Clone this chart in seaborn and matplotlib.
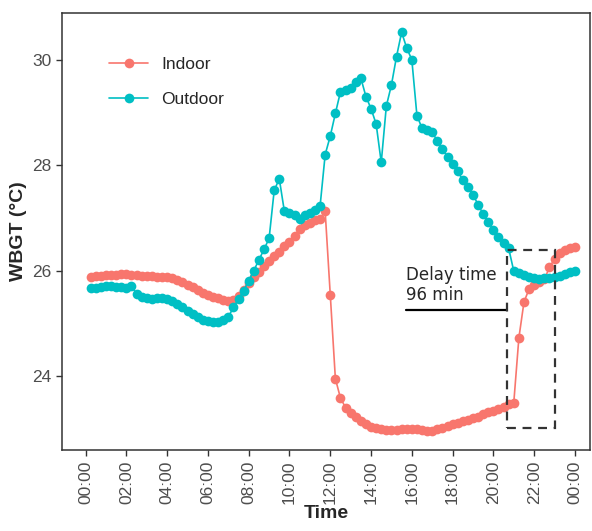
import numpy as np
import pandas as pd
import seaborn as sns
import matplotlib.pyplot as plt
from matplotlib.patches import Rectangle

# WBGT every 15 min, 00:15 -> 24:00
indoor = [25.87, 25.89, 25.90, 25.91, 25.92, 25.92, 25.93, 25.93,
          25.92, 25.91, 25.90, 25.89, 25.89, 25.88, 25.88, 25.87,
          25.85, 25.82, 25.78, 25.73, 25.68, 25.63, 25.58, 25.54,
          25.50, 25.47, 25.44, 25.42, 25.44, 25.52, 25.63, 25.76,
          25.88, 25.98, 26.08, 26.18, 26.28, 26.36, 26.46, 26.55,
          26.66, 26.78, 26.86, 26.90, 26.95, 26.98, 27.12, 25.54,
          23.95, 23.58, 23.40, 23.30, 23.22, 23.15, 23.09, 23.04,
          23.01, 22.99, 22.98, 22.98, 22.98, 22.99, 22.99, 23.00,
          22.99, 22.97, 22.96, 22.96, 22.99, 23.02, 23.05, 23.08,
          23.11, 23.14, 23.17, 23.20, 23.23, 23.27, 23.31, 23.34,
          23.38, 23.42, 23.46, 23.49, 24.72, 25.40, 25.65, 25.73,
          25.78, 25.83, 26.06, 26.22, 26.33, 26.38, 26.42, 26.45]
outdoor = [25.66, 25.67, 25.68, 25.70, 25.70, 25.69, 25.68, 25.67,
           25.70, 25.56, 25.50, 25.47, 25.46, 25.47, 25.47, 25.46,
           25.42, 25.36, 25.30, 25.24, 25.18, 25.12, 25.07, 25.04,
           25.02, 25.02, 25.07, 25.12, 25.30, 25.46, 25.62, 25.80,
           26.00, 26.20, 26.40, 26.61, 27.52, 27.74, 27.12, 27.10,
           27.05, 26.98, 27.05, 27.10, 27.15, 27.22, 28.20, 28.55,
           28.98, 29.39, 29.43, 29.46, 29.58, 29.65, 29.30, 29.07,
           28.78, 28.05, 29.12, 29.52, 30.06, 30.52, 30.22, 30.00,
           28.94, 28.70, 28.66, 28.62, 28.46, 28.30, 28.16, 28.02,
           27.88, 27.72, 27.58, 27.44, 27.25, 27.07, 26.92, 26.77,
           26.64, 26.52, 26.42, 25.99, 25.95, 25.92, 25.88, 25.85,
           25.84, 25.85, 25.86, 25.87, 25.90, 25.93, 25.97, 26.00]
hours = np.arange(1, 97) * 0.25
tick_hours = list(range(0, 25, 2))
tick_labels = ["%02d:00" % (h % 24) for h in tick_hours]

df = pd.DataFrame({
    "Time": np.concatenate([hours, hours]),
    "WBGT": indoor + outdoor,
    "Site": ["Indoor"] * len(indoor) + ["Outdoor"] * len(outdoor),
})

sns.set_style("white")
plt.rcParams['font.family'] = ['Liberation Sans', 'DejaVu Sans']

fig = plt.figure(figsize=(5.92, 5.31), dpi=100)
ax = fig.add_axes([0.105, 0.153, 0.892, 0.822])

sns.lineplot(data=df, x="Time", y="WBGT", hue="Site",
             palette={"Indoor": "#F8766D", "Outdoor": "#00BFC4"},
             marker="o", markersize=7, markeredgewidth=0, linewidth=1.2, ax=ax)

# delay box and annotation
ax.add_patch(Rectangle((20.65, 23.02), 2.37, 3.37, fill=False, ls=(0, (4, 3)),
                       lw=1.6, ec="#333333", zorder=5))
ax.plot([15.72, 20.62], [25.26, 25.26], color="black", lw=1.6)
ax.text(15.72, 25.37, "Delay time\n96 min", fontsize=12, family=['DejaVu Sans'],
        ha="left", va="bottom", linespacing=1.1)

ax.set_xlim(-1.15, 24.75)
ax.set_ylim(22.6, 30.88)
ax.set_xticks(tick_hours)
ax.set_xticklabels(tick_labels, rotation=90)
ax.set_yticks([24, 26, 28, 30])
ax.tick_params(axis="both", direction="out", length=4, width=1, color="#333333",
               labelsize=12.5, labelcolor="#4D4D4D", bottom=True, left=True)
for s in ax.spines.values():
    s.set_color("#333333")
    s.set_linewidth(1.1)

ax.set_xlabel("Time", fontsize=14, fontweight="bold", labelpad=1)
ax.set_ylabel("WBGT (°C)", fontsize=14, fontweight="bold", labelpad=4)

leg = ax.legend(loc="upper left", bbox_to_anchor=(0.06, 0.935), frameon=False,
                fontsize=12.5, handlelength=2.2, labelspacing=1.1, title=None)

fig.savefig("out.png", dpi=100)
